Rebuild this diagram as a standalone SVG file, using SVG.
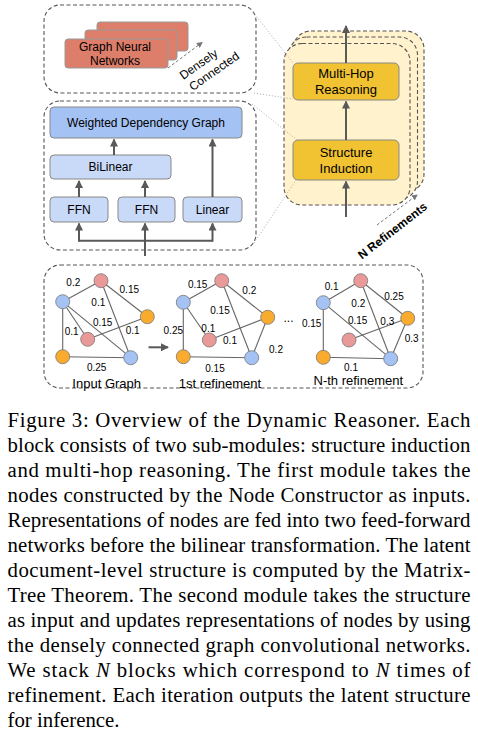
<svg xmlns="http://www.w3.org/2000/svg" width="478" height="735" viewBox="0 0 478 735">
<style>
.bg{fill:#fff}
.dash{fill:none;stroke:#555;stroke-width:1.1;stroke-dasharray:4,2.5}
.ydash{fill:#fff2cc;stroke:#555;stroke-width:1.1;stroke-dasharray:4,2.5}
.dot{fill:none;stroke:#aaa;stroke-width:1;stroke-dasharray:1,2}
.gnn{fill:#dd7e6b;stroke:#999;stroke-width:1}
.blueD{fill:#a4c2f4;stroke:#888;stroke-width:1}
.blueL{fill:#c9daf8;stroke:#888;stroke-width:1}
.gold{fill:#f1c232;stroke:#888;stroke-width:1}
.arr{fill:none;stroke:#595959;stroke-width:2}
.edge{stroke:#666;stroke-width:1.1}
.nb{fill:#a4c2f4;stroke:#777;stroke-width:0.8}
.np{fill:#ea9999;stroke:#777;stroke-width:0.8}
.no{fill:#f9ab2e;stroke:#777;stroke-width:0.8}
.t12{font-family:"Liberation Sans",Arial,sans-serif;font-size:12px;fill:#000;text-anchor:middle}
.t13{font-family:"Liberation Sans",Arial,sans-serif;font-size:13px;fill:#000;text-anchor:middle}
.w{font-family:"Liberation Sans",Arial,sans-serif;font-size:10px;fill:#000;text-anchor:middle}
.cap{font-family:"Liberation Serif","Times New Roman",serif;font-size:20.8px;fill:#000}
</style>
<defs>
<marker id="ah" markerWidth="8" markerHeight="8" refX="7" refY="4" orient="auto" markerUnits="userSpaceOnUse">
<path d="M0,0 L8,4 L0,8 Z" fill="#595959"/>
</marker>
<marker id="ahs" markerWidth="6" markerHeight="6" refX="5" refY="3" orient="auto" markerUnits="userSpaceOnUse">
<path d="M0,0 L6,3 L0,6 Z" fill="#777"/>
</marker>
</defs>
<rect class="bg" x="0" y="0" width="478" height="735"/>

<g id="gnn-block">
<rect class="dash" x="44" y="5" width="212" height="88" rx="16"/>
<rect class="gnn" x="97" y="22" width="91" height="29" rx="3"/>
<rect class="gnn" x="85" y="30" width="92" height="30" rx="3"/>
<rect class="gnn" x="65" y="39" width="103" height="29" rx="3"/>
<text class="t12" x="115" y="51">Graph Neural</text>
<text class="t12" x="115" y="65">Networks</text>
<text class="t12" transform="translate(201,67.5) rotate(-35)">Densely</text>
<text class="t12" transform="translate(216.5,74.5) rotate(-35)">Connected</text>
</g>

<g id="structure-block">
<rect class="dash" x="44" y="101" width="212" height="149" rx="16"/>
</g>
<g id="node-wdg">
<rect class="blueD" x="50" y="107" width="192" height="31" rx="4"/>
<text class="t12" x="146" y="126.5">Weighted Dependency Graph</text>
</g>
<g id="node-bilinear">
<rect class="blueL" x="50" y="155" width="121" height="24" rx="4"/>
<text class="t12" x="110.5" y="171.2">BiLinear</text>
</g>
<g id="node-ffn1">
<rect class="blueL" x="50" y="197" width="58" height="25" rx="4"/>
<text class="t12" x="79" y="214">FFN</text>
</g>
<g id="node-ffn2">
<rect class="blueL" x="118" y="197" width="57" height="25" rx="4"/>
<text class="t12" x="146.5" y="214">FFN</text>
</g>
<g id="node-linear">
<rect class="blueL" x="183" y="197" width="59" height="25" rx="4"/>
<text class="t12" x="212.5" y="214">Linear</text>
</g>

<g id="refinement-stack">
<rect class="ydash" x="293" y="31" width="131" height="161" rx="18"/>
<rect class="ydash" x="288.5" y="37" width="129" height="162" rx="18"/>
<rect class="ydash" x="284" y="43.5" width="126" height="161.5" rx="18"/>
</g>

<g id="guides">
<line class="dot" x1="253" y1="12" x2="293" y2="63"/>
<line class="dot" x1="254" y1="93" x2="293" y2="99"/>
<line class="dot" x1="252" y1="104" x2="297" y2="140"/>
<line class="dot" x1="254" y1="243" x2="296" y2="180"/>
</g>

<g id="node-multihop">
<rect class="gold" x="293" y="63" width="106" height="37" rx="5"/>
<text class="t13" x="346" y="78">Multi-Hop</text>
<text class="t13" x="346" y="93.5">Reasoning</text>
</g>
<g id="node-induction">
<rect class="gold" x="293" y="140" width="106" height="40" rx="5"/>
<text class="t13" x="346" y="157">Structure</text>
<text class="t13" x="346" y="173">Induction</text>
</g>
<text font-family="Liberation Sans, Arial, sans-serif" font-size="12" font-weight="bold" text-anchor="middle" transform="translate(395,234) rotate(-38)">N Refinements</text>

<g id="connectors">
<path class="arr" d="M79,197 V181" marker-end="url(#ah)"/>
<path class="arr" d="M145,197 V181" marker-end="url(#ah)"/>
<path class="arr" d="M114,155 V139.5" marker-end="url(#ah)"/>
<path class="arr" d="M212.5,197 V139.5" marker-end="url(#ah)"/>
<path class="arr" d="M145,256 V223.5" marker-end="url(#ah)"/>
<path class="arr" d="M79,240.7 H212.5"/>
<path class="arr" d="M79,241.7 V223.5" marker-end="url(#ah)"/>
<path class="arr" d="M212.5,241.7 V223.5" marker-end="url(#ah)"/>
<path class="arr" d="M346,217 V181.5" marker-end="url(#ah)"/>
<path class="arr" d="M346,140 V101.5" marker-end="url(#ah)"/>
<path class="arr" d="M346,63 V26" marker-end="url(#ah)"/>
<path class="arr" d="M148.5,347.3 H168" marker-end="url(#ah)"/>
<line x1="168" y1="68" x2="202" y2="42.5" stroke="#777" stroke-width="1" stroke-dasharray="3,2" marker-end="url(#ahs)"/>
<line x1="377" y1="225" x2="417" y2="195" stroke="#777" stroke-width="1" stroke-dasharray="3,2" marker-end="url(#ahs)"/>
</g>

<g id="graphs-block">
<rect class="dash" x="44" y="265" width="379" height="123" rx="16"/>
</g>

<g id="graph-input">
<g class="edge">
<line x1="62.7" y1="301.7" x2="101" y2="280.7"/>
<line x1="101" y1="280.7" x2="147.3" y2="316.7"/>
<line x1="101" y1="280.7" x2="130.7" y2="357.7"/>
<line x1="62.7" y1="301.7" x2="62.7" y2="356.7"/>
<line x1="62.7" y1="301.7" x2="87.7" y2="339.3"/>
<line x1="62.7" y1="301.7" x2="130.7" y2="357.7"/>
<line x1="87.7" y1="339.3" x2="147.3" y2="316.7"/>
<line x1="62.7" y1="356.7" x2="130.7" y2="357.7"/>
</g>
<circle class="nb" cx="62.7" cy="301.7" r="7"/>
<circle class="np" cx="101" cy="280.7" r="7"/>
<circle class="no" cx="147.3" cy="316.7" r="7"/>
<circle class="np" cx="87.7" cy="339.3" r="7"/>
<circle class="no" cx="62.7" cy="356.7" r="7"/>
<circle class="nb" cx="130.7" cy="357.7" r="7"/>
<text class="w" x="73.3" y="286.3">0.2</text>
<text class="w" x="129.3" y="292.9">0.15</text>
<text class="w" x="98.3" y="305.9">0.1</text>
<text class="w" x="102.7" y="325.6">0.15</text>
<text class="w" x="71.7" y="334.6">0.1</text>
<text class="w" x="132.7" y="333.6">0.1</text>
<text class="w" x="96.7" y="370.9">0.25</text>
<text class="t13" x="106.7" y="387.7">Input Graph</text>
</g>

<g id="graph-first">
<g class="edge">
<line x1="183.3" y1="302.3" x2="221.7" y2="280.7"/>
<line x1="221.7" y1="280.7" x2="267.7" y2="317.3"/>
<line x1="221.7" y1="280.7" x2="251.7" y2="357.7"/>
<line x1="183.3" y1="302.3" x2="209.3" y2="340"/>
<line x1="209.3" y1="340" x2="267.7" y2="317.3"/>
<line x1="183.3" y1="302.3" x2="183.3" y2="356.7"/>
<line x1="183.3" y1="356.7" x2="251.7" y2="357.7"/>
<line x1="267.7" y1="317.3" x2="251.7" y2="357.7"/>
</g>
<circle class="nb" cx="183.3" cy="302.3" r="7"/>
<circle class="np" cx="221.7" cy="280.7" r="7"/>
<circle class="no" cx="267.7" cy="317.3" r="7"/>
<circle class="np" cx="209.3" cy="340" r="7"/>
<circle class="no" cx="183.3" cy="356.7" r="7"/>
<circle class="nb" cx="251.7" cy="357.7" r="7"/>
<text class="w" x="197.7" y="287.6">0.15</text>
<text class="w" x="249.3" y="293.6">0.2</text>
<text class="w" x="220" y="313.6">0.15</text>
<text class="w" x="208.3" y="331.9">0.1</text>
<text class="w" x="230" y="343.6">0.1</text>
<text class="w" x="173.3" y="333.6">0.25</text>
<text class="w" x="276" y="352.6">0.2</text>
<text class="w" x="215" y="371.9">0.15</text>
<text class="t13" x="220" y="388">1st refinement</text>
<text class="t12" x="288.5" y="322">...</text>
</g>

<g id="graph-nth">
<g class="edge">
<line x1="323.3" y1="302.7" x2="360.7" y2="280.7"/>
<line x1="360.7" y1="280.7" x2="407.7" y2="318.3"/>
<line x1="360.7" y1="280.7" x2="390.7" y2="358.7"/>
<line x1="323.3" y1="302.7" x2="390.7" y2="358.7"/>
<line x1="349" y1="340" x2="407.7" y2="318.3"/>
<line x1="407.7" y1="318.3" x2="390.7" y2="358.7"/>
<line x1="323.3" y1="302.7" x2="323.3" y2="357.3"/>
<line x1="323.3" y1="357.3" x2="390.7" y2="358.7"/>
</g>
<circle class="nb" cx="323.3" cy="302.7" r="7"/>
<circle class="np" cx="360.7" cy="280.7" r="7"/>
<circle class="no" cx="407.7" cy="318.3" r="7"/>
<circle class="np" cx="349" cy="340" r="7"/>
<circle class="no" cx="323.3" cy="357.3" r="7"/>
<circle class="nb" cx="390.7" cy="358.7" r="7"/>
<text class="w" x="331.7" y="289.6">0.1</text>
<text class="w" x="394" y="300.3">0.25</text>
<text class="w" x="358.3" y="306.9">0.2</text>
<text class="w" x="357.7" y="323.6">0.15</text>
<text class="w" x="387.3" y="324.6">0.3</text>
<text class="w" x="411.7" y="341.9">0.3</text>
<text class="w" x="311.7" y="326.9">0.15</text>
<text class="w" x="351" y="370.9">0.1</text>
<text class="t13" x="358.3" y="385">N-th refinement</text>
</g>

<g id="caption">
<text class="cap" x="7.5" y="426.7" textLength="463" lengthAdjust="spacing">Figure 3:  Overview of the Dynamic Reasoner.  Each</text>
<text class="cap" x="7.5" y="451.7" textLength="463" lengthAdjust="spacing">block consists of two sub-modules: structure induction</text>
<text class="cap" x="7.5" y="476.7" textLength="463" lengthAdjust="spacing">and multi-hop reasoning.  The first module takes the</text>
<text class="cap" x="7.5" y="501.7" textLength="463" lengthAdjust="spacing">nodes constructed by the Node Constructor as inputs.</text>
<text class="cap" x="7.5" y="526.7" textLength="463" lengthAdjust="spacing">Representations of nodes are fed into two feed-forward</text>
<text class="cap" x="7.5" y="551.7" textLength="463" lengthAdjust="spacing">networks before the bilinear transformation. The latent</text>
<text class="cap" x="7.5" y="576.7" textLength="463" lengthAdjust="spacing">document-level structure is computed by the Matrix-</text>
<text class="cap" x="7.5" y="601.7" textLength="463" lengthAdjust="spacing">Tree Theorem. The second module takes the structure</text>
<text class="cap" x="7.5" y="626.7" textLength="463" lengthAdjust="spacing">as input and updates representations of nodes by using</text>
<text class="cap" x="7.5" y="651.7" textLength="463" lengthAdjust="spacing">the densely connected graph convolutional networks.</text>
<text class="cap" x="7.5" y="676.7" textLength="463" lengthAdjust="spacing">We stack <tspan font-style="italic">N</tspan> blocks which correspond to <tspan font-style="italic">N</tspan> times of</text>
<text class="cap" x="7.5" y="701.7" textLength="463" lengthAdjust="spacing">refinement.  Each iteration outputs the latent structure</text>
<text class="cap" x="7.5" y="726.7">for inference.</text>
</g>
</svg>
